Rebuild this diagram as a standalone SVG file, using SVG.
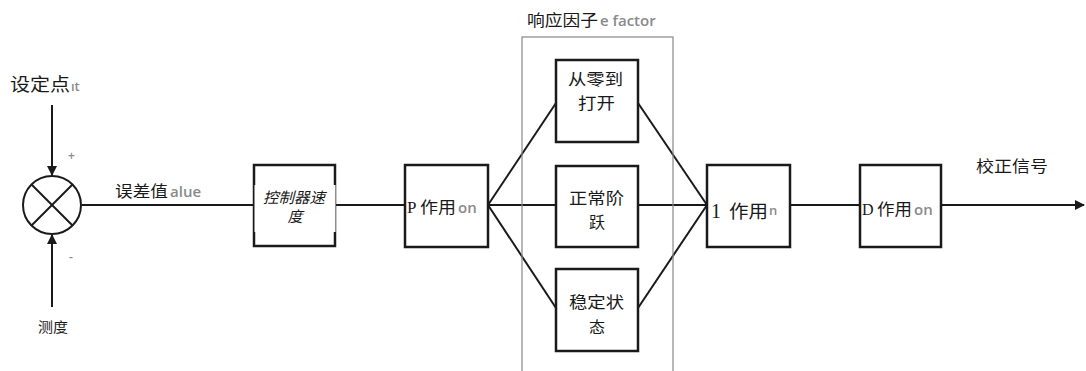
<svg xmlns="http://www.w3.org/2000/svg" width="1086" height="371" viewBox="0 0 1086 371">
<style>
.box{fill:#fff;stroke:#1a1a1a;stroke-width:2.5}
.ln{fill:none;stroke:#1a1a1a;stroke-width:2}
.cjk{font-family:"Liberation Serif","Noto Sans CJK SC",serif;fill:#1a1a1a}
.lat{font-family:"Liberation Serif",serif;fill:#1a1a1a}
.g{font-family:"Open Sans","Liberation Sans",sans-serif;fill:#8a8a8a;font-weight:600}
</style>
<defs>
<marker id="ah" viewBox="0 0 10 10" refX="9" refY="5" markerWidth="5" markerHeight="5" orient="auto" markerUnits="strokeWidth">
<path d="M0,0 L10,5 L0,10 z" fill="#1a1a1a"/>
</marker>
</defs>
<rect width="1086" height="371" fill="#fff"/>
<g id="connectors">
<line class="ln" x1="52" y1="105" x2="52" y2="175" marker-end="url(#ah)"/>
<line class="ln" x1="52" y1="307" x2="52" y2="235" marker-end="url(#ah)"/>
<line class="ln" x1="82" y1="205" x2="253" y2="205"/>
<line class="ln" x1="335" y1="205" x2="405" y2="205"/>
<line class="ln" x1="488" y1="205" x2="556" y2="103"/>
<line class="ln" x1="488" y1="205" x2="556" y2="205"/>
<line class="ln" x1="488" y1="205" x2="556" y2="308"/>
<line class="ln" x1="638" y1="103" x2="707" y2="205"/>
<line class="ln" x1="638" y1="205" x2="707" y2="205"/>
<line class="ln" x1="638" y1="308" x2="707" y2="205"/>
<line class="ln" x1="790" y1="205" x2="860" y2="205"/>
<line class="ln" x1="941" y1="205" x2="1084" y2="205" marker-end="url(#ah)"/>
</g>
<g id="group-response">
<rect x="522" y="37" width="151" height="340" fill="none" stroke="#888" stroke-width="1.2"/>
<text x="527" y="26" class="cjk" font-size="16" textLength="71" lengthAdjust="spacingAndGlyphs">响应因子</text>
<text x="600" y="26" class="g" font-size="15">e factor</text>
</g>
<g id="sum">
<circle cx="52" cy="205" r="29" fill="#fff" stroke="#1a1a1a" stroke-width="2"/>
<line class="ln" x1="31.5" y1="184.5" x2="72.5" y2="225.5"/>
<line class="ln" x1="72.5" y1="184.5" x2="31.5" y2="225.5"/>
<text x="68" y="160" class="g" font-size="12">+</text>
<text x="69" y="261" class="g" font-size="12">-</text>
</g>
<g id="setpoint">
<text x="10" y="91" class="cjk" font-size="18" textLength="60" lengthAdjust="spacingAndGlyphs">设定点</text>
<text x="71" y="91" class="g" font-size="13">ıt</text>
</g>
<g id="measure"><text x="38" y="332" class="cjk" font-size="14" textLength="30" lengthAdjust="spacingAndGlyphs">测度</text></g>
<g id="error">
<text x="115" y="197" class="cjk" font-size="16" textLength="53" lengthAdjust="spacingAndGlyphs">误差值</text>
<text x="170" y="197" class="g" font-size="15">alue</text>
</g>
<g id="controller">
<rect class="box" x="254" y="165" width="81" height="81"/>
<rect x="254.5" y="185" width="81" height="47" fill="#fff"/>
<text x="263" y="203" class="cjk" font-size="15" font-style="italic" textLength="62" lengthAdjust="spacingAndGlyphs">控制器速</text>
<text x="295" y="222" class="cjk" font-size="15" font-style="italic" text-anchor="middle">度</text>
</g>
<g id="p-action">
<rect class="box" x="405" y="165" width="83" height="82"/>
<text x="407" y="213" class="lat" font-size="17">P</text>
<text x="420" y="213" class="cjk" font-size="16" textLength="36" lengthAdjust="spacingAndGlyphs">作用</text>
<text x="458" y="213" class="g" font-size="15">on</text>
</g>
<g id="zero-open">
<rect class="box" x="556" y="60" width="82" height="82"/>
<text x="568" y="85" class="cjk" font-size="16" textLength="55" lengthAdjust="spacingAndGlyphs">从零到</text>
<text x="578" y="109" class="cjk" font-size="16" textLength="37" lengthAdjust="spacingAndGlyphs">打开</text>
</g>
<g id="normal-step">
<rect class="box" x="556" y="166" width="82" height="81"/>
<text x="569" y="204" class="cjk" font-size="16" textLength="55" lengthAdjust="spacingAndGlyphs">正常阶</text>
<text x="597" y="228" class="cjk" font-size="16" text-anchor="middle">跃</text>
</g>
<g id="steady">
<rect class="box" x="556" y="269" width="82" height="82"/>
<text x="569" y="308" class="cjk" font-size="16" textLength="55" lengthAdjust="spacingAndGlyphs">稳定状</text>
<text x="597" y="333" class="cjk" font-size="16" text-anchor="middle">态</text>
</g>
<g id="i-action">
<rect class="box" x="707" y="165" width="83" height="82"/>
<text x="711" y="218" class="lat" font-size="20">1</text>
<text x="729" y="218" class="cjk" font-size="18" textLength="39" lengthAdjust="spacingAndGlyphs">作用</text>
<text x="769" y="215" class="g" font-size="13">n</text>
</g>
<g id="d-action">
<rect class="box" x="860" y="165" width="81" height="82"/>
<text x="862" y="215" class="lat" font-size="16">D</text>
<text x="877" y="215" class="cjk" font-size="16" textLength="35" lengthAdjust="spacingAndGlyphs">作用</text>
<text x="914" y="215" class="g" font-size="15">on</text>
</g>
<g id="output"><text x="976" y="172" class="cjk" font-size="16" textLength="72" lengthAdjust="spacingAndGlyphs">校正信号</text></g>
</svg>
